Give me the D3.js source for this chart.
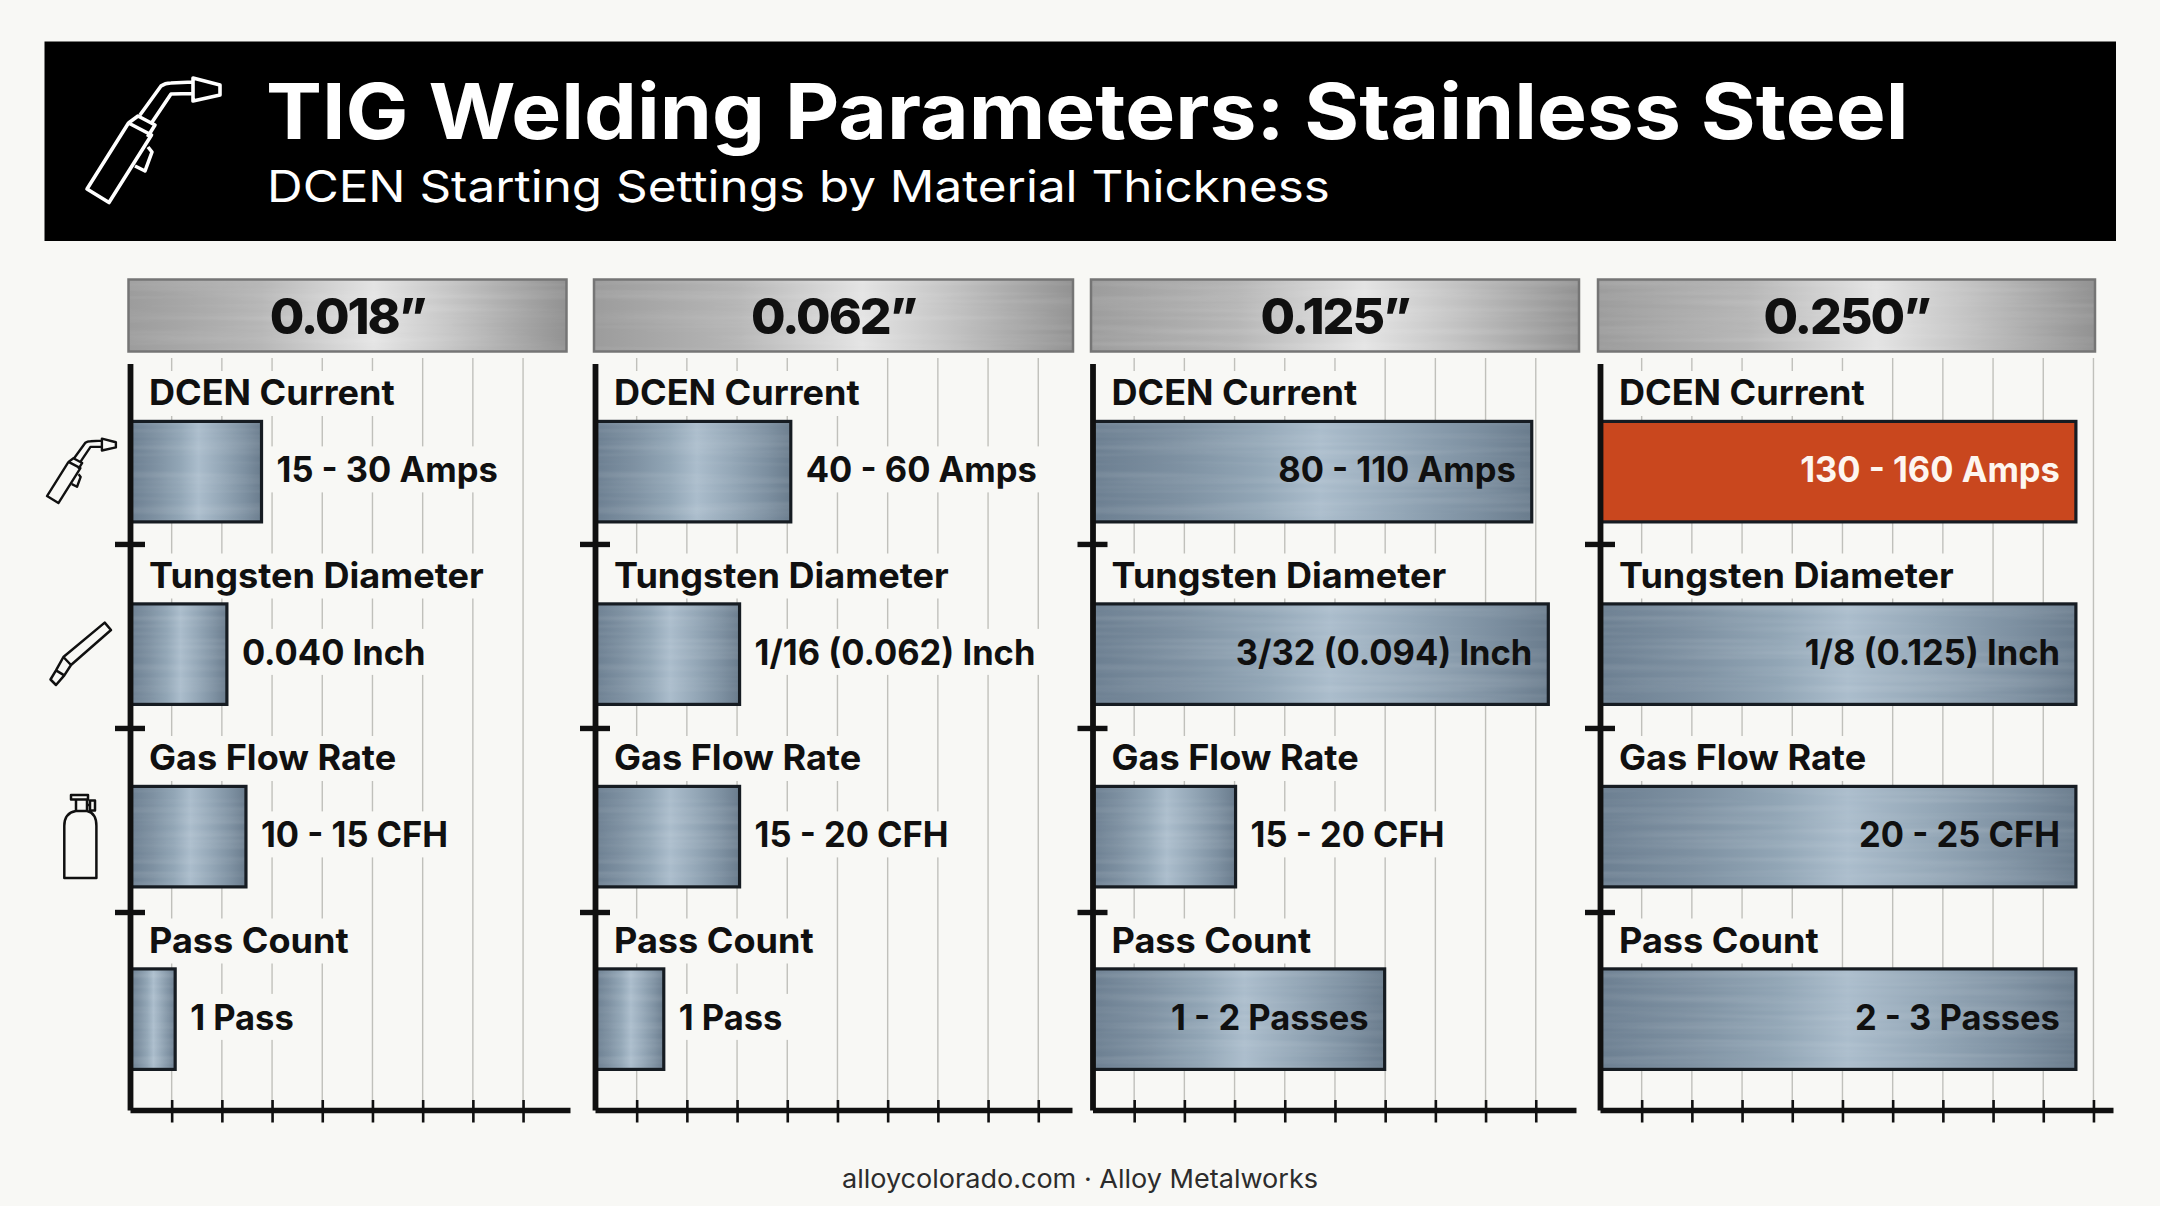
<!DOCTYPE html>
<html>
<head>
<meta charset="utf-8">
<script src="https://cdn.jsdelivr.net/npm/d3@7"></script>
<style>
  html, body { margin: 0; padding: 0; background: #f8f8f5; }
  text { font-family: Inter, "Open Sans", sans-serif; }
</style>
</head>
<body>
<div id="chart"></div>
<script>
// Chart data.
var title = 'TIG Welding Parameters: Stainless Steel';
var subtitle = 'DCEN Starting Settings by Material Thickness';
var footer = 'alloycolorado.com \u00b7 Alloy Metalworks';
var thicknesses = ['0.018\u201d', '0.062\u201d', '0.125\u201d', '0.250\u201d'];
var parameters = ['DCEN Current', 'Tungsten Diameter', 'Gas Flow Rate', 'Pass Count'];

// Bar lengths are in gridline steps, the chart has no numbered axis.
var lengths018 = [2.62, 1.93, 2.31, 0.90];
var lengths062 = [3.90, 2.88, 2.88, 1.37];
var lengths125 = [8.75, 9.08, 2.85, 5.82];
var lengths250 = [9.48, 9.48, 9.48, 9.48];

var labels018 = ['15 - 30 Amps', '0.040 Inch', '10 - 15 CFH', '1 Pass'];
var labels062 = ['40 - 60 Amps', '1/16 (0.062) Inch', '15 - 20 CFH', '1 Pass'];
var labels125 = ['80 - 110 Amps', '3/32 (0.094) Inch', '15 - 20 CFH', '1 - 2 Passes'];
var labels250 = ['130 - 160 Amps', '1/8 (0.125) Inch', '20 - 25 CFH', '2 - 3 Passes'];

var ticks018 = [0.83, 1.83, 2.83, 3.83, 4.83, 5.83, 6.83, 7.83];
var ticks062 = [0.83, 1.83, 2.83, 3.83, 4.83, 5.83, 6.83, 7.83, 8.83];
var ticks125 = [0.83, 1.83, 2.83, 3.83, 4.83, 5.83, 6.83, 7.83, 8.83];
var ticks250 = [0.83, 1.83, 2.83, 3.83, 4.83, 5.83, 6.83, 7.83, 8.83, 9.83];

// Bars that carry their label inside.
var insideFrom = 5;

var allLengths = [lengths018, lengths062, lengths125, lengths250];
var allLabels = [labels018, labels062, labels125, labels250];
var allTicks = [ticks018, ticks062, ticks125, ticks250];

// Size of the page and of each panel.
var width = 2160, height = 1206;
var step = 50.2;
var plotTop = 358, plotBottom = 1110;
var panels = [
    {left: 130, right: 570, plateLeft: 128.5, plateRight: 566.5},
    {left: 595, right: 1072, plateLeft: 594, plateRight: 1073},
    {left: 1092.5, right: 1576, plateLeft: 1091, plateRight: 1579},
    {left: 1600, right: 2113, plateLeft: 1598, plateRight: 2095}
];

var bg = '#f8f8f5', ink = '#101010';

var svg = d3.select('#chart').append('svg')
    .attr('width', width)
    .attr('height', height)
    .style('display', 'block');

svg.append('rect').attr('width', width).attr('height', height).attr('fill', bg);

// The font is narrower than the one in the picture, so widen the glyphs a little.
function stretch(sel, k) {
    sel.each(function() {
        d3.select(this)
            .attr('textLength', this.getComputedTextLength() * k)
            .attr('lengthAdjust', 'spacingAndGlyphs');
    });
    return sel;
}

// Metal gradients and the brushed streaks.
var defs = svg.append('defs');

function gradient(id, stops) {
    var g = defs.append('linearGradient').attr('id', id)
        .attr('x1', 0).attr('x2', 1).attr('y1', 0).attr('y2', 0);
    stops.forEach(function(s) {
        g.append('stop').attr('offset', s[0]).attr('stop-color', s[1]);
    });
}
gradient('steel', [[0, '#6c7f91'], [0.2, '#7e91a2'], [0.38, '#92a6b6'], [0.52, '#abbdcc'], [0.7, '#94a7b7'], [0.88, '#7c8fa0'], [1, '#6a7c8d']]);
gradient('plate', [[0, '#9c9c9c'], [0.3, '#b6b6b6'], [0.56, '#e4e4e4'], [0.74, '#c4c4c4'], [1, '#929292']]);

var brushed = defs.append('filter').attr('id', 'brushed')
    .attr('x', 0).attr('y', 0).attr('width', 1).attr('height', 1)
    .attr('color-interpolation-filters', 'sRGB');
brushed.append('feTurbulence').attr('type', 'fractalNoise')
    .attr('baseFrequency', '0.004 0.14').attr('numOctaves', 2).attr('seed', 3).attr('result', 'n');
brushed.append('feColorMatrix').attr('in', 'n').attr('type', 'matrix')
    .attr('values', '0 0 0 0 1  0 0 0 0 1  0 0 0 0 1  0.22 0 0 0 -0.08').attr('result', 's');
brushed.append('feComposite').attr('in', 's').attr('in2', 'SourceGraphic')
    .attr('operator', 'in').attr('result', 'c');
var merge = brushed.append('feMerge');
merge.append('feMergeNode').attr('in', 'SourceGraphic');
merge.append('feMergeNode').attr('in', 'c');

// Header band.
svg.append('rect')
    .attr('x', 44.5).attr('y', 41.5)
    .attr('width', 2071.5).attr('height', 199.5)
    .attr('fill', '#000');

svg.append('text')
    .attr('x', 266).attr('y', 139)
    .attr('font-size', 77).attr('font-weight', 700)
    .attr('fill', '#fff')
    .text(title)
    .call(stretch, 1.09);

svg.append('text')
    .attr('x', 267).attr('y', 202)
    .attr('font-size', 44).attr('font-weight', 400)
    .attr('fill', '#fff')
    .text(subtitle)
    .call(stretch, 1.122);

// Icons, drawn in page coordinates of the big torch.
function drawTorch(g) {
    g.append('path').attr('d',
        'M87,189 L109,202.5 L151.5,135 L128.5,123 Z' +
        'M128.5,123 L138,116 L155,125 L147.5,137' +
        'M140,115 L161,86 Q165,83 171,83 L193,82' +
        'M151.5,123 L171,94 L193,93.5' +
        'M193,78 L220,85 L220,95 L193,101 Z' +
        'M148,147 L152,152 L145,171 L135,166');
}

var big = svg.append('g')
    .attr('fill', 'none').attr('stroke', '#fff').attr('stroke-width', 3.6)
    .attr('stroke-linejoin', 'round');
drawTorch(big);

var icons = svg.append('g')
    .attr('fill', 'none').attr('stroke', ink).attr('stroke-linejoin', 'round');

var small = icons.append('g')
    .attr('stroke-width', 4.6)
    .attr('transform', 'translate(47, 438.6) scale(0.518) translate(-87, -78)');
drawTorch(small);

icons.append('path')
    .attr('stroke-width', 2.5)
    .attr('d', 'M104.7,622.6 L111,630 L71,665 L64.3,675.4 L56,685 L50.5,679.5 L56,670.4 L63.4,657 Z' +
        'M63.4,657 L71,665 M56,670.4 L64.3,675.4');

icons.append('path')
    .attr('stroke-width', 2.5)
    .attr('d', 'M64.3,878 L96.4,878 L96.4,826 Q96.4,813 87,811 L75.8,811 Q64.3,813 64.3,826 Z' +
        'M76,811 L76,800 M87,811 L87,800 M71,795 L88,795 L88,799.5 L71,799.5 Z' +
        'M87,805 L90,805 M90,800.5 L95,800.5 L95,810.5 L90,810.5 Z');

// One panel per material thickness.
var rows = d3.scaleBand().domain(parameters).range([361, 1091]);
var barTop = 60.4, barHeight = 100.5;

// Row separators on the vertical axis.
var yDivide = d3.scaleLinear().domain([0.02, 4.076]).range([363.6, plotBottom]);

panels.forEach(function(panel, p) {
    var g = svg.append('g').attr('transform', 'translate(' + panel.left + ', 0)');
    var plotWidth = panel.right - panel.left;
    var x = d3.scaleLinear().domain([0, plotWidth / step]).range([0, plotWidth]);

    var rowData = parameters.map(function(name, i) {
        return {name: name, length: allLengths[p][i], label: allLabels[p][i]};
    });

    // Plate with the thickness.
    svg.append('rect')
        .attr('x', panel.plateLeft).attr('y', 279.5)
        .attr('width', panel.plateRight - panel.plateLeft).attr('height', 72)
        .attr('fill', 'url(#plate)').attr('filter', 'url(#brushed)');
    svg.append('rect')
        .attr('x', panel.plateLeft).attr('y', 279.5)
        .attr('width', panel.plateRight - panel.plateLeft).attr('height', 72)
        .attr('fill', 'none')
        .attr('stroke', '#757575').attr('stroke-width', 2.5);

    svg.append('text')
        .attr('x', (panel.plateLeft + panel.plateRight) / 2).attr('y', 334)
        .attr('text-anchor', 'middle')
        .attr('font-size', 50).attr('font-weight', 800)
        .attr('letter-spacing', -2)
        .attr('fill', ink)
        .text(thicknesses[p]);

    // Gridlines.
    g.selectAll('.grid')
        .data(allTicks[p])
        .enter().append('line')
            .attr('class', 'grid')
            .attr('x1', function(d){ return x(d); })
            .attr('x2', function(d){ return x(d); })
            .attr('y1', plotTop)
            .attr('y2', plotBottom)
            .attr('stroke', '#c0c0bb')
            .attr('stroke-width', 1.4);

    // Parameter names, the rect behind cuts the gridlines.
    var names = g.selectAll('.name')
        .data(rowData)
        .enter().append('g').attr('class', 'name');
    names.append('text')
        .attr('x', 19)
        .attr('y', function(d){ return rows(d.name) + 44; })
        .attr('font-size', 35).attr('font-weight', 700)
        .attr('fill', ink)
        .text(function(d){ return d.name; })
        .call(stretch, 1.03)
        .each(function() {
            var box = this.getBBox();
            d3.select(this.parentNode).insert('rect', 'text')
                .attr('x', box.x - 8).attr('y', box.y)
                .attr('width', box.width + 16).attr('height', box.height + 3)
                .attr('fill', bg);
        });

    // Value labels beyond the bar need the same cut.
    var outside = rowData.filter(function(d){ return d.length < insideFrom; });
    g.selectAll('.value')
        .data(outside)
        .enter().append('g').attr('class', 'value')
        .append('text')
            .attr('x', function(d){ return x(d.length) + 15; })
            .attr('y', function(d){ return rows(d.name) + barTop + 61; })
            .attr('font-size', 35).attr('font-weight', 700)
            .attr('fill', ink)
            .text(function(d){ return d.label; })
            .call(stretch, 0.985)
            .each(function() {
                var box = this.getBBox();
                d3.select(this.parentNode).insert('rect', 'text')
                    .attr('x', box.x - 8).attr('y', box.y - 2)
                    .attr('width', box.width + 16).attr('height', box.height + 4)
                    .attr('fill', bg);
            });

    // Bars.
    g.selectAll('.bar')
        .data(rowData)
        .enter().append('rect')
            .attr('class', 'bar')
            .attr('x', 0)
            .attr('y', function(d){ return rows(d.name) + barTop; })
            .attr('width', function(d){ return x(d.length); })
            .attr('height', barHeight)
            .attr('fill', function(d){ return d.label === '130 - 160 Amps' ? '#c9471e' : 'url(#steel)'; })
            .attr('filter', function(d){ return d.label === '130 - 160 Amps' ? null : 'url(#brushed)'; });

    g.selectAll('.bar-edge')
        .data(rowData)
        .enter().append('rect')
            .attr('class', 'bar-edge')
            .attr('x', 0)
            .attr('y', function(d){ return rows(d.name) + barTop; })
            .attr('width', function(d){ return x(d.length); })
            .attr('height', barHeight)
            .attr('fill', 'none')
            .attr('stroke', '#161c22')
            .attr('stroke-width', 3.2);

    g.selectAll('.inside')
        .data(rowData.filter(function(d){ return d.length >= insideFrom; }))
        .enter().append('text')
            .attr('class', 'inside')
            .attr('x', function(d){ return x(d.length) - 16; })
            .attr('y', function(d){ return rows(d.name) + barTop + 61; })
            .attr('text-anchor', 'end')
            .attr('font-size', 35).attr('font-weight', 700)
            .attr('fill', function(d){ return d.label === '130 - 160 Amps' ? '#fdf6f0' : ink; })
            .text(function(d){ return d.label; })
            .call(stretch, 0.985);

    // Vertical axis.
    var yAxis = g.append('g')
        .attr('class', 'y-axis')
        .call(d3.axisLeft(yDivide).tickValues([1, 2, 3]).tickSizeOuter(0).tickSizeInner(15).tickFormat(''));
    yAxis.select('.domain').attr('stroke', ink).attr('stroke-width', 5.8);
    yAxis.selectAll('.tick line').attr('x2', 15).attr('x1', -15).attr('stroke', ink).attr('stroke-width', 5.4);

    // Horizontal axis, ticks cross it.
    var xAxis = g.append('g')
        .attr('class', 'x-axis')
        .attr('transform', 'translate(0, ' + plotBottom + ')')
        .call(d3.axisBottom(x).tickValues(allTicks[p]).tickSizeOuter(0).tickSizeInner(12.5).tickFormat(''));
    xAxis.select('.domain').attr('stroke', ink).attr('stroke-width', 5.4);
    xAxis.selectAll('.tick line').attr('y1', -10).attr('stroke', ink).attr('stroke-width', 2.6);
});

// Footer.
svg.append('text')
    .attr('x', 1080).attr('y', 1188)
    .attr('text-anchor', 'middle')
    .attr('font-size', 26).attr('font-weight', 400)
    .attr('fill', '#2c2c2c')
    .text(footer)
    .call(stretch, 1.04);
</script>
</body>
</html>
